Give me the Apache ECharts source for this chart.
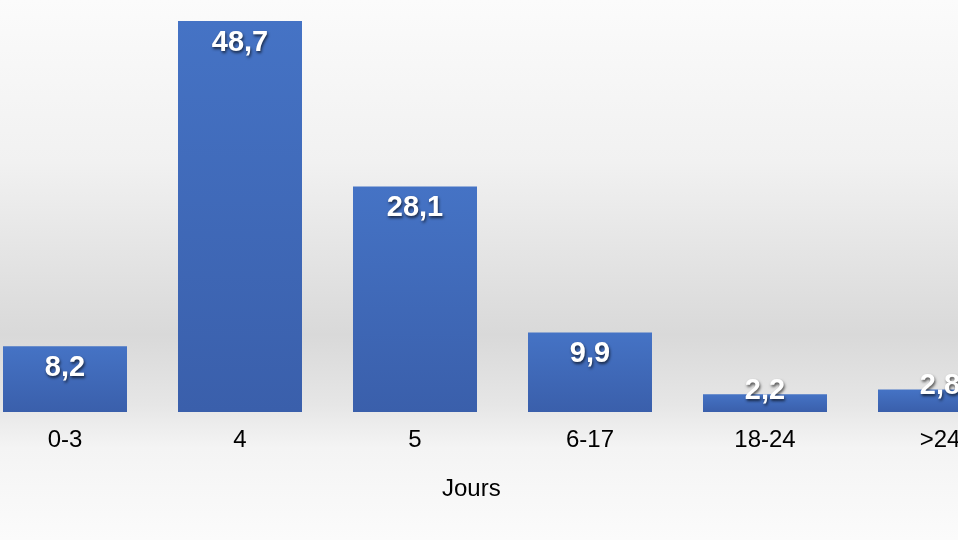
<!DOCTYPE html>
<html>
<head>
<meta charset="utf-8">
<script src="https://cdn.jsdelivr.net/npm/echarts@6/dist/echarts.min.js"></script>
<style>
html,body{margin:0;padding:0;background:#fafafa;}
#chart{width:958px;height:540px;}
</style>
</head>
<body>
<div id="chart"></div>
<script>
var categories = ['0-3', '4', '5', '6-17', '18-24', '>24'];
var values = [8.2, 48.7, 28.1, 9.9, 2.2, 2.8];
var axisTitle = 'Jours';

var chart = echarts.init(document.getElementById('chart'), null, {renderer: 'canvas'});

function fmt(v) { return String(v).replace('.', ','); }

var seriesData = values.map(function (v) {
  var small = v < 5;
  return {
    value: v,
    label: small ? {position: 'top', distance: -11} : {position: 'insideTop', distance: 7}
  };
});

var option = {
  animation: false,
  backgroundColor: {
    type: 'linear', x: 0, y: 0, x2: 0, y2: 1,
    colorStops: [
      {offset: 0, color: '#fbfbfb'},
      {offset: 0.3, color: '#f1f1f1'},
      {offset: 0.62, color: '#d9d9d9'},
      {offset: 0.75, color: '#e6e6e6'},
      {offset: 0.83, color: '#f4f4f4'},
      {offset: 1, color: '#fbfbfb'}
    ]
  },
  title: {
    text: axisTitle,
    left: 437,
    top: 472,
    textStyle: {fontFamily: 'Liberation Sans, Arial, sans-serif', fontSize: 24, fontWeight: 'normal', color: '#000'}
  },
  grid: {
    left: -22.5,
    right: -69.5,
    top: 10.6,
    bottom: 128,
    outerBoundsMode: 'none',
    containLabel: false
  },
  xAxis: {
    type: 'category',
    data: categories,
    axisLine: {show: false},
    axisTick: {show: false},
    axisLabel: {
      margin: 16,
      fontFamily: 'Liberation Sans, Arial, sans-serif',
      fontSize: 24,
      color: '#000'
    }
  },
  yAxis: {
    type: 'value',
    min: 0,
    max: 50,
    show: false
  },
  series: [{
    type: 'bar',
    data: seriesData,
    barWidth: 124,
    itemStyle: {
      color: {
        type: 'linear', x: 0, y: 0, x2: 0, y2: 1,
        colorStops: [
          {offset: 0, color: '#4573c5'},
          {offset: 1, color: '#3a5fab'}
        ]
      }
    },
    label: {
      show: true,
      formatter: function (p) { return fmt(p.value); },
      fontFamily: 'Liberation Sans, Arial, sans-serif',
      fontSize: 29,
      fontWeight: 'bold',
      color: '#fff',
      textShadowColor: 'rgba(0,0,0,0.65)',
      textShadowBlur: 3,
      textShadowOffsetX: 1,
      textShadowOffsetY: 2
    }
  }]
};
chart.setOption(option);
</script>
</body>
</html>
